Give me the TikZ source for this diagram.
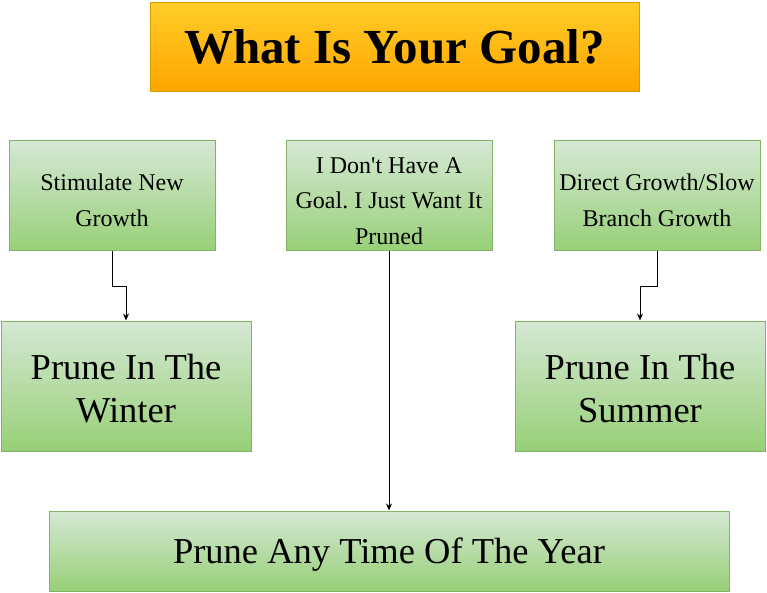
\documentclass[tikz,border=0pt]{standalone}
\usepackage{fontspec}
\setmainfont{Liberation Serif}
\usetikzlibrary{positioning, arrows.meta}
\frenchspacing

\definecolor{goalTop}{HTML}{FFCD28}
\definecolor{goalBot}{HTML}{FFA500}
\definecolor{goalLine}{HTML}{D79B00}
\definecolor{leafTop}{HTML}{D5E8D4}
\definecolor{leafBot}{HTML}{97D077}
\definecolor{leafLine}{HTML}{82B366}

\newcommand{\padtop}[1]{\rule{0pt}{#1}}

\begin{document}
\begin{tikzpicture}[x=1pt, y=-1pt,
    goal/.style={draw=goalLine, top color=goalTop, bottom color=goalBot, line width=1pt,
      minimum width=489pt, minimum height=89pt, inner sep=2pt,
      font=\bfseries\fontsize{49}{52}\selectfont},
    reason/.style={draw=leafLine, top color=leafTop, bottom color=leafBot, line width=1pt,
      minimum width=206pt, minimum height=110pt, inner sep=1pt, align=center,
      font=\fontsize{24}{35.5}\selectfont},
    advice/.style={draw=leafLine, top color=leafTop, bottom color=leafBot, line width=1pt,
      minimum width=250pt, minimum height=130pt, inner sep=2pt, align=center,
      font=\fontsize{36.5}{43}\selectfont},
    link/.style={-{Stealth[length=7pt, width=6pt]}, line width=1pt}]
    \useasboundingbox (0,0) rectangle (767,593);

    \node[goal] (goal) at (394.5,47) {What Is Your Goal?};

    \node[reason] (grow) at (112,196) {\padtop{25pt}Stimulate New\\Growth};
    \node[reason] (any) at (389,196) {\padtop{26pt}I Don\textquotesingle t Have A\\Goal. I Just Want It\\Pruned};
    \node[reason] (slow) at (657,196) {\padtop{25pt}Direct Growth/Slow\\Branch Growth};

    \node[advice] (winter) at (126,386) {\padtop{30pt}Prune In The\\Winter};
    \node[advice] (summer) at (640,386) {\padtop{30pt}Prune In The\\Summer};
    \node[advice, minimum width=680pt, minimum height=80pt] (year) at (389,551) {\padtop{33pt}Prune Any Time Of The Year};

    \draw[link] (grow.south) -- ++(0,35) -| (winter.north);
    \draw[link] (slow.south) -- ++(0,35) -| (summer.north);
    \draw[link] (any.south) -- (year.north);
\end{tikzpicture}
\end{document}
